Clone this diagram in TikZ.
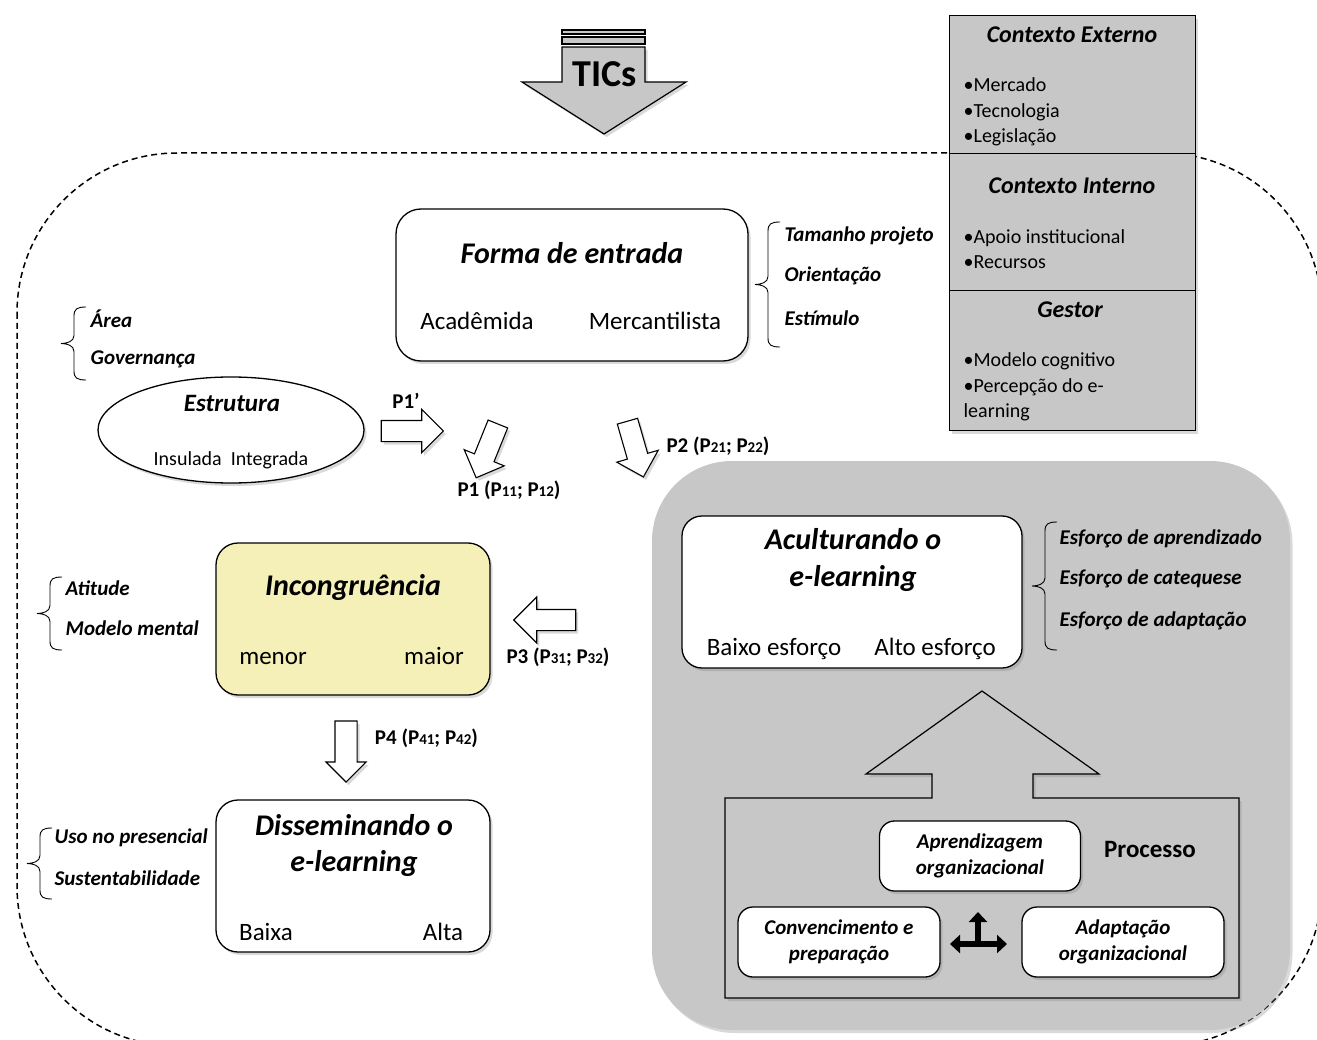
\documentclass[tikz,border=0pt]{standalone}
\usepackage{fontspec}
\setmainfont{Carlito}
\usetikzlibrary{shapes.geometric,shapes.arrows,shadows,arrows.meta}
\definecolor{PainelCinza}{RGB}{199,199,199}
\definecolor{AmareloIncong}{RGB}{244,240,184}
\newcommand{\pind}[1]{{\fontsize{15}{15}\selectfont #1}}
% chave aberta para a direita: x da haste, topo, base
\newcommand{\chaveabre}[3]{%
  \draw[line width=.9pt] (#1+12,#2) .. controls (#1+3,#2) and (#1,#2+2) .. (#1,#2+9)
    -- (#1,{(#2+#3)/2-8}) .. controls (#1,{(#2+#3)/2-2}) and (#1-7,{(#2+#3)/2}) .. (#1-13,{(#2+#3)/2})
    .. controls (#1-7,{(#2+#3)/2}) and (#1,{(#2+#3)/2+2}) .. (#1,{(#2+#3)/2+8})
    -- (#1,#3-9) .. controls (#1,#3-2) and (#1+3,#3) .. (#1+12,#3);}

\begin{document}
\begin{tikzpicture}[x=1pt,y=-1pt,line width=1.3pt,
  sombra/.style={drop shadow={shadow xshift=2.5pt,shadow yshift=-3pt,opacity=.3}},
  caixa/.style={draw,fill=white,rounded corners=#1,inner sep=0pt,sombra},
  caixa/.default=22pt,
  contexto/.style={draw,fill=PainelCinza,inner sep=0pt,anchor=north west,minimum width=246pt,sombra},
  bloco/.style={single arrow,draw,fill=white,inner xsep=0pt,inner ysep=10pt,minimum height=60pt,
    single arrow head extend=11pt,line width=1.1pt,sombra},
  titulo/.style={font=\fontsize{30}{36}\selectfont\bfseries\itshape,align=center},
  polo/.style={font=\fontsize{25}{30}\selectfont,anchor=base},
  fator/.style={font=\fontsize{21}{25}\selectfont\bfseries\itshape,anchor=west,inner sep=0pt},
  ctxtitulo/.style={font=\fontsize{24}{29}\selectfont\bfseries\itshape},
  ctxitem/.style={font=\fontsize{20}{25.5}\selectfont,align=left,anchor=west,inner sep=0pt},
  prop/.style={font=\fontsize{21}{25}\selectfont\bfseries},
  etapa/.style={font=\fontsize{21}{26}\selectfont\bfseries\itshape,align=center}]
\useasboundingbox (0,0) rectangle (1317,1040);

% fronteira tracejada
\draw[dashed,dash pattern=on 6pt off 4pt,line width=1.5pt,rounded corners=160pt] (17,153) rectangle (1322,1046);

% seta TICs
\filldraw[fill=PainelCinza,line width=1.2pt] (562,30) rectangle (645,34) (562,37) rectangle (645,44);
\filldraw[fill=PainelCinza,line width=1.2pt,sombra] (562,47) -- (645,47) -- (645,82) -- (686,82)
  -- (604,134) -- (522,82) -- (562,82) -- cycle;
\node[font=\fontsize{38}{40}\selectfont\bfseries] (tics) at (605,74) {TICs};

% contextos
\node[contexto,minimum height=138pt] (ctxext) at (949,15) {};
\node[contexto,minimum height=137pt] (ctxint) at (949,153) {};
\node[contexto,minimum height=140pt] (gestor) at (949,290) {};
\node[ctxtitulo] (tExt) at (1072,35) {Contexto Externo};
\node[ctxitem] (iExt) at (963,112) {•Mercado\\•Tecnologia\\•Legislação};
\node[ctxtitulo] (tInt) at (1072,186) {Contexto Interno};
\node[ctxitem] (iInt) at (963,249) {•Apoio institucional\\•Recursos};
\node[ctxtitulo] (tGes) at (1070,310) {Gestor};
\node[ctxitem] (iGes) at (963,387) {•Modelo cognitivo\\•Percepção do e-\\learning};

% forma de entrada
\node[caixa=25pt,minimum width=352pt,minimum height=152pt] (forma) at (572,285) {};
\node[titulo] (tForma) at (572,253) {Forma de entrada};
\node[polo] (academ) at (477,330) {Acadêmida};
\node[polo] (mercan) at (655,330) {Mercantilista};
\chaveabre{768}{222}{347}
\node[fator] (tam) at (784,236) {Tamanho projeto};
\node[fator] (ori) at (784,276) {Orientação};
\node[fator] (est) at (784,318) {Estímulo};

% estrutura
\chaveabre{74}{307}{380}
\node[fator] (area) at (90,319) {Área};
\node[fator] (gov) at (90,359) {Governança};
\node[ellipse,draw,fill=white,minimum width=266pt,minimum height=106pt,sombra] (estrut) at (231,430) {};
\node[font=\fontsize{25}{30}\selectfont\bfseries\itshape] (tEstr) at (232,403) {Estrutura};
\node[font=\fontsize{20}{24}\selectfont] (insul) at (231,460) {Insulada\ \ Integrada};

% proposicoes
\node[bloco,minimum height=62pt] (setaP1l) at (407,431) {};
\node[prop] (pP1l) at (406,401) {P1’};
\node[bloco,minimum height=58pt,rotate=-112] (setaP1) at (489,446) {};
\node[prop] (pP1) at (509,490) {P1 (P\pind{11}; P\pind{12})};
\node[bloco,minimum height=58pt,rotate=-74] (setaP2) at (634,444) {};
\node[prop] (pP2) at (718,446) {P2 (P\pind{21}; P\pind{22})};

% painel do aculturamento
\node[fill=PainelCinza,rounded corners=80pt,minimum width=638pt,minimum height=569pt,inner sep=0pt,sombra] (painel) at (971,745.5) {};
\node[caixa=20pt,minimum width=340pt,minimum height=152pt] (acult) at (852,592) {};
\node[titulo] (tAcult) at (853,560) {Aculturando o\\e-learning};
\node[polo] (baixoE) at (774,655) {Baixo esforço};
\node[polo] (altoE) at (935,655) {Alto esforço};
\chaveabre{1045}{522}{650}
\node[fator] (esf1) at (1059,539) {Esforço de aprendizado};
\node[fator] (esf2) at (1059,579) {Esforço de catequese};
\node[fator] (esf3) at (1059,621) {Esforço de adaptação};

% processo
\filldraw[fill=PainelCinza,line width=1.2pt,sombra] (725,998) -- (725,798) -- (932,798) -- (932,774)
  -- (866,774) -- (982,691) -- (1099,774) -- (1033,774) -- (1033,798) -- (1239,798) -- (1239,998) -- cycle;
\node[font=\fontsize{25}{30}\selectfont\bfseries] (proc) at (1150,849) {Processo};
\node[caixa=15pt,minimum width=201pt,minimum height=70pt] (aprend) at (980,856) {};
\node[etapa] at (aprend) {Aprendizagem\\organizacional};
\node[caixa=15pt,minimum width=202pt,minimum height=70pt] (conv) at (839,942) {};
\node[etapa] at (conv) {Convencimento e\\preparação};
\node[caixa=15pt,minimum width=202pt,minimum height=70pt] (adapt) at (1123,942) {};
\node[etapa] at (adapt) {Adaptação\\organizacional};
\coordinate (triE) at (950,944);
\coordinate (triD) at (1007,944);
\coordinate (triC) at (978,946);
\coordinate (triS) at (978,912);
\draw[line width=6pt,{Triangle[length=10pt,width=18pt]}-{Triangle[length=10pt,width=18pt]}] (triE) -- (triD);
\draw[line width=6pt,-{Triangle[length=10pt,width=18pt]}] (triC) -- (triS);

% incongruencia
\node[draw,fill=AmareloIncong,rounded corners=22pt,minimum width=274pt,minimum height=152pt,sombra] (incong) at (353,619) {};
\node[titulo] (tInc) at (353,587) {Incongruência};
\node[polo] (menor) at (273,664) {menor};
\node[polo] (maior) at (434,664) {maior};
\chaveabre{50}{577}{650}
\node[fator] (atit) at (65,588) {Atitude};
\node[fator] (mment) at (65,628) {Modelo mental};
\node[bloco,minimum height=62pt,inner ysep=10pt,single arrow head extend=12.5pt,rotate=180] (setaP3) at (550,620) {};
\node[prop] (pP3) at (558,657) {P3 (P\pind{31}; P\pind{32})};
\node[bloco,minimum height=61pt,inner ysep=10.5pt,single arrow head extend=9pt,rotate=-90] (setaP4) at (346,746) {};
\node[prop,anchor=west] (pP4) at (371,738) {P4 (P\pind{41}; P\pind{42})};

% disseminando
\node[caixa=22pt,minimum width=274pt,minimum height=152pt] (dissem) at (353,876) {};
\node[titulo] (tDis) at (354,845) {Disseminando o\\e-learning};
\node[polo] (baixa) at (266,940) {Baixa};
\node[polo] (alta) at (443,940) {Alta};
\chaveabre{40}{828}{899}
\node[fator] (uso) at (54,838) {Uso no presencial};
\node[fator] (sust) at (54,878) {Sustentabilidade};
\end{tikzpicture}
\end{document}
